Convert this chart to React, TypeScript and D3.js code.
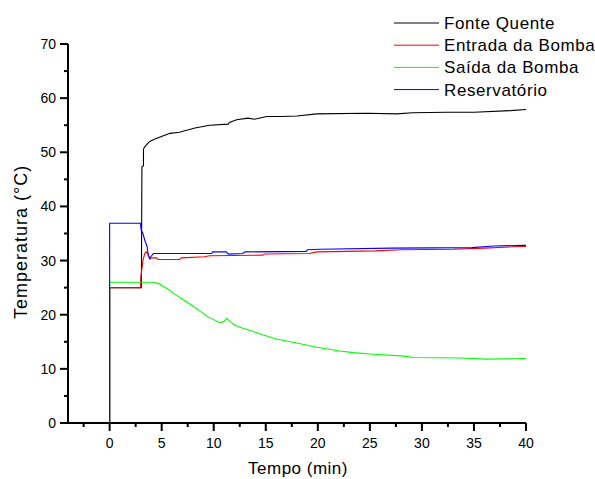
import React, { useEffect, useRef } from 'react'
import * as d3 from 'd3'

// series: [time (min), temperature (°C)]
const fonteQuente: [number, number][] = [
  [0, 0], [0, 25], [2.95, 25], [3.05, 25], [3.1, 47.3], [3.25, 47.5], [3.25, 50.6],
  [3.37, 51.0], [3.6, 51.5], [3.85, 52.0], [4.3, 52.4], [5.1, 53.0], [5.8, 53.5],
  [6.7, 53.7], [7.5, 54.1], [8.2, 54.5], [9.6, 55.0], [11.4, 55.2], [11.5, 55.5],
  [12.2, 56.0], [13.3, 56.3], [13.9, 56.1], [15.1, 56.6], [16.5, 56.6], [18, 56.7],
  [19.9, 57.1], [24.7, 57.2], [27.6, 57.1], [29.1, 57.3], [32.4, 57.4], [35, 57.4],
  [38.5, 57.7], [40, 57.9],
]
const entradaBomba: [number, number][] = [
  [0, 0], [0, 25], [2.95, 25], [3.0, 27], [3.2, 30], [3.37, 31.3], [3.5, 31.6],
  [3.7, 31.2], [3.85, 30.3], [4.1, 30.5], [4.5, 30.5], [4.65, 30.2], [6.7, 30.2],
  [6.9, 30.5], [9.1, 30.7], [9.6, 30.9], [14.7, 31.0], [14.9, 31.2], [19.2, 31.3],
  [19.9, 31.6], [25.5, 31.8], [28, 32.0], [33, 32.1], [36, 32.3], [39.4, 32.6], [40, 32.6],
]
const saidaBomba: [number, number][] = [
  [0, 0], [0, 26], [4.2, 26], [4.8, 25.7], [5.1, 25.3], [5.6, 24.7], [6.25, 23.8],
  [7.05, 22.8], [7.85, 21.8], [8.65, 20.7], [9.45, 19.6], [10.1, 19.0], [10.6, 18.5],
  [11.0, 18.8], [11.25, 19.3], [11.5, 18.9], [12.0, 18.1], [12.8, 17.5], [13.8, 16.9],
  [14.7, 16.3], [16.0, 15.5], [17.6, 14.9], [18.9, 14.4], [19.9, 14.0], [20.8, 13.7],
  [22.1, 13.3], [23.4, 13.0], [25.3, 12.7], [28.0, 12.4], [29.2, 12.1], [33.7, 12.0],
  [36.2, 11.8], [39.7, 11.9], [40, 11.9],
]
const reservatorio: [number, number][] = [
  [0, 0], [0, 36.9], [2.95, 36.9], [3.04, 35.6], [3.2, 35.0], [3.37, 33.8], [3.6, 32.6],
  [3.7, 31.0], [3.85, 30.4], [4.0, 30.8], [4.2, 31.3], [9.8, 31.3], [9.9, 31.6],
  [11.2, 31.6], [11.4, 31.2], [12.8, 31.3], [13, 31.6], [18.9, 31.7], [19, 32.0],
  [20.2, 32.1], [27.1, 32.3], [34.8, 32.4], [36.9, 32.7], [39.7, 32.8], [40, 32.8],
]

const seriesNames = ['Fonte Quente', 'Entrada da Bomba', 'Saída da Bomba', 'Reservatório']
const seriesColors = ['#000000', '#ff0000', '#00ff00', '#0000ff']
const seriesData = [fonteQuente, entradaBomba, saidaBomba, reservatorio]

const xMajorTicks = [0, 5, 10, 15, 20, 25, 30, 35, 40]
const xMinorTicks = [-2.5, 2.5, 7.5, 12.5, 17.5, 22.5, 27.5, 32.5, 37.5]
const yMajorTicks = [0, 10, 20, 30, 40, 50, 60, 70]
const yMinorTicks = [5, 15, 25, 35, 45, 55, 65]

const W = 595, H = 479
const font = 'Liberation Sans, Arial, sans-serif'

export default function App() {
  const ref = useRef<SVGSVGElement>(null)

  useEffect(() => {
    const svg = d3.select(ref.current)
    svg.selectAll('*').remove()

    const x = d3.scaleLinear().domain([-4, 40]).range([68, 526])
    const y = d3.scaleLinear().domain([0, 70]).range([423, 44])

    const line = d3.line<[number, number]>()
      .x(d => x(d[0]))
      .y(d => y(d[1]))

    // curves
    seriesData.forEach((data, i) => {
      svg.append('path')
        .datum(data)
        .attr('d', line)
        .attr('fill', 'none')
        .attr('stroke', seriesColors[i])
        .attr('stroke-width', 1.1)
    })

    // x axis
    const xAxis = svg.append('g')
    xAxis.append('line')
      .attr('x1', x(-4)).attr('x2', x(40))
      .attr('y1', y(0)).attr('y2', y(0))
      .attr('stroke', '#000').attr('stroke-width', 2)
    xAxis.selectAll('.xmaj').data(xMajorTicks).enter().append('line')
      .attr('x1', d => x(d)).attr('x2', d => x(d))
      .attr('y1', y(0)).attr('y2', y(0) + 8)
      .attr('stroke', '#000').attr('stroke-width', 2)
    xAxis.selectAll('.xmin').data(xMinorTicks).enter().append('line')
      .attr('x1', d => x(d)).attr('x2', d => x(d))
      .attr('y1', y(0)).attr('y2', y(0) + 4)
      .attr('stroke', '#000').attr('stroke-width', 2)
    xAxis.selectAll('.xlab').data(xMajorTicks).enter().append('text')
      .attr('x', d => x(d)).attr('y', 448)
      .attr('text-anchor', 'middle')
      .attr('font-family', font).attr('font-size', 14)
      .text(d => d)

    // y axis
    const yAxis = svg.append('g')
    yAxis.append('line')
      .attr('x1', x(-4)).attr('x2', x(-4))
      .attr('y1', y(0) + 1).attr('y2', y(70))
      .attr('stroke', '#000').attr('stroke-width', 2)
    yAxis.selectAll('.ymaj').data(yMajorTicks).enter().append('line')
      .attr('x1', x(-4) - 8).attr('x2', x(-4))
      .attr('y1', d => y(d)).attr('y2', d => y(d))
      .attr('stroke', '#000').attr('stroke-width', 2)
    yAxis.selectAll('.ymin').data(yMinorTicks).enter().append('line')
      .attr('x1', x(-4) - 4).attr('x2', x(-4))
      .attr('y1', d => y(d)).attr('y2', d => y(d))
      .attr('stroke', '#000').attr('stroke-width', 2)
    yAxis.selectAll('.ylab').data(yMajorTicks).enter().append('text')
      .attr('x', 56).attr('y', d => y(d) + 5)
      .attr('text-anchor', 'end')
      .attr('font-family', font).attr('font-size', 14)
      .text(d => d)

    // axis titles
    svg.append('text')
      .attr('x', 298).attr('y', 474)
      .attr('text-anchor', 'middle')
      .attr('font-family', font).attr('font-size', 17)
      .attr('letter-spacing', 0.5)
      .text('Tempo (min)')
    svg.append('text')
      .attr('transform', 'translate(27,242) rotate(-90)')
      .attr('text-anchor', 'middle')
      .attr('font-family', font).attr('font-size', 18)
      .attr('letter-spacing', 1)
      .text('Temperatura (°C)')

    // legend
    const legend = svg.append('g')
    seriesNames.forEach((name, i) => {
      const ly = 23 + i * 22.2
      legend.append('line')
        .attr('x1', 394).attr('x2', 439)
        .attr('y1', ly).attr('y2', ly)
        .attr('stroke', seriesColors[i]).attr('stroke-width', 1)
      legend.append('text')
        .attr('x', 444).attr('y', ly + 6)
        .attr('font-family', font).attr('font-size', 17)
        .attr('letter-spacing', 0.6)
        .text(name)
    })
  }, [])

  return (
    <svg ref={ref} width={W} height={H}
      style={{ position: 'absolute', left: 0, top: 0, background: '#fff' }} />
  )
}
